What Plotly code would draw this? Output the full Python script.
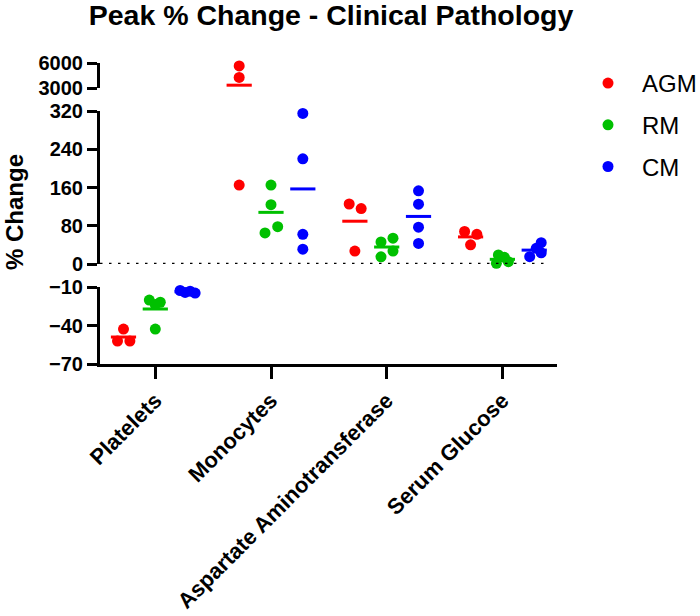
import numpy as np
import plotly.graph_objects as go

categories = ["Platelets", "Monocytes", "Aspartate Aminotransferase", "Serum Glucose"]
series = ["AGM", "RM", "CM"]
colors = {"AGM": "#FF0000", "RM": "#00C000", "CM": "#0000FF"}

# % change values per category (order as categories)
agm = [[-42.7, -52, -52], [5650, 4290, 165], [125.5, 116, 27], [68, 62, 40]]
rm = [[-20, -21.7, -23.5, -42.7], [165, 124, 78, 65], [46, 54, 27, 15], [18.8, 14, 4.8, 1.5]]
cm = [[-12.5, -14, -13, -14.5], [315, 220, 62, 31], [153, 125, 77, 43], [44.6, 32.8, 23.3, 15.3]]
values = {"AGM": agm, "RM": rm, "CM": cm}

# horizontal scatter spread of points (pixels), style only
agm_spread = [[0, -6, 6.4], [0, 0, 0], [-5.7, 6.3, 0], [-6, 6.3, 0]]
rm_spread = [[-6, 5, 0, 0], [0, 0, 6.7, -6], [-5.7, 6.3, 6.3, -5.7], [-4, 2, 6, -6]]
cm_spread = [[-7, -2, 3, 8], [0, 0, 0, 0], [0, 0, 0, 0], [7, 2, 7, -4.5]]
spreads = {"AGM": agm_spread, "RM": rm_spread, "CM": cm_spread}
group_offset = {"AGM": -0.275, "RM": 0.0, "CM": 0.275}
px_per_unit = 115.7

# broken y-axis segments
segments = [("y", [-70, -10], [-70, -40, -10]),
            ("y2", [0, 320], [0, 80, 160, 240, 320]),
            ("y3", [3000, 6000], [3000, 6000])]


def seg_of(v):
    for name, rng, _ in segments:
        if rng[0] - 1e-9 <= v <= rng[1] + 1e-9:
            return name
    return "y2"


FONT = "Arial, Liberation Sans, sans-serif"
fig = go.Figure()

# mean lines
for s in series:
    for ci, vals in enumerate(values[s]):
        m = float(np.mean(vals))
        fig.add_trace(go.Scatter(
            x=[ci + group_offset[s]], y=[m], yaxis=seg_of(m), mode="markers",
            marker=dict(symbol="line-ew", size=18, line=dict(color=colors[s], width=3)),
            showlegend=False, hoverinfo="skip", cliponaxis=False))

# points
for s in series:
    first = True
    for name, rng, _ in segments:
        xs, ys = [], []
        for ci, vals in enumerate(values[s]):
            for v, dx in zip(vals, spreads[s][ci]):
                if seg_of(v) == name:
                    xs.append(ci + group_offset[s] + dx / px_per_unit)
                    ys.append(v)
        if not xs:
            continue
        fig.add_trace(go.Scatter(
            x=xs, y=ys, yaxis=name, mode="markers", name=s,
            legendgroup=s, showlegend=first,
            marker=dict(size=11, color=colors[s]), cliponaxis=False))
        first = False

H = 301.0
dom = {"y": [0, (364 - 287.3) / H], "y2": [(364 - 264) / H, (364 - 111) / H],
       "y3": [(364 - 88.3) / H, 1.0]}

axis_common = dict(showline=True, linecolor="black", linewidth=3, ticks="outside",
                   ticklen=10, tickwidth=3, tickcolor="black", showgrid=False,
                   zeroline=False, anchor="x", automargin=False,
                   tickfont=dict(family=FONT, size=20, color="black", weight="bold"))

layout_axes = {}
for name, rng, tv in segments:
    key = "yaxis" if name == "y" else "yaxis" + name[1:]
    layout_axes[key] = dict(axis_common, range=rng, tickvals=tv, domain=dom[name])

fig.update_layout(
    width=700, height=616,
    margin=dict(l=100, r=143, t=63, b=252, autoexpand=False),
    paper_bgcolor="white", plot_bgcolor="white",
    title=dict(text="Peak % Change - Clinical Pathology", x=331 / 700, xanchor="center",
               y=1 - 15 / 616, yanchor="middle", yref="container",
               font=dict(family=FONT, size=28.5, color="black", weight="bold")),
    xaxis=dict(range=[-0.478, 3.472], tickvals=list(range(len(categories))),
               ticktext=categories, tickangle=-45, showline=True, linecolor="black",
               linewidth=3, ticks="outside", ticklen=12, tickwidth=3, tickcolor="black",
               showgrid=False, zeroline=False, anchor="y", automargin=False,
               tickfont=dict(family=FONT, size=22, color="black", weight="bold")),
    legend=dict(x=(574 - 100) / 457, xanchor="left", y=(364 - 61) / H, yanchor="top",
                traceorder="grouped", tracegroupgap=7.5, itemwidth=58,
                font=dict(family=FONT, size=24, color="black")),
    showlegend=True,
    **layout_axes,
)

fig.add_shape(type="line", xref="paper", yref="y2", x0=0, x1=0.982, y0=0, y1=0,
              line=dict(color="black", width=2.5, dash="2.5px,6.5px"))

fig.add_annotation(text="% Change", xref="paper", yref="paper",
                   x=(14 - 100) / 457, y=(364 - 212) / H, xanchor="center", yanchor="middle",
                   textangle=-90, showarrow=False,
                   font=dict(family=FONT, size=24, color="black", weight="bold"))

fig.write_html("out.html", config={"displayModeBar": False},
               post_script="document.body.style.margin='0';")
